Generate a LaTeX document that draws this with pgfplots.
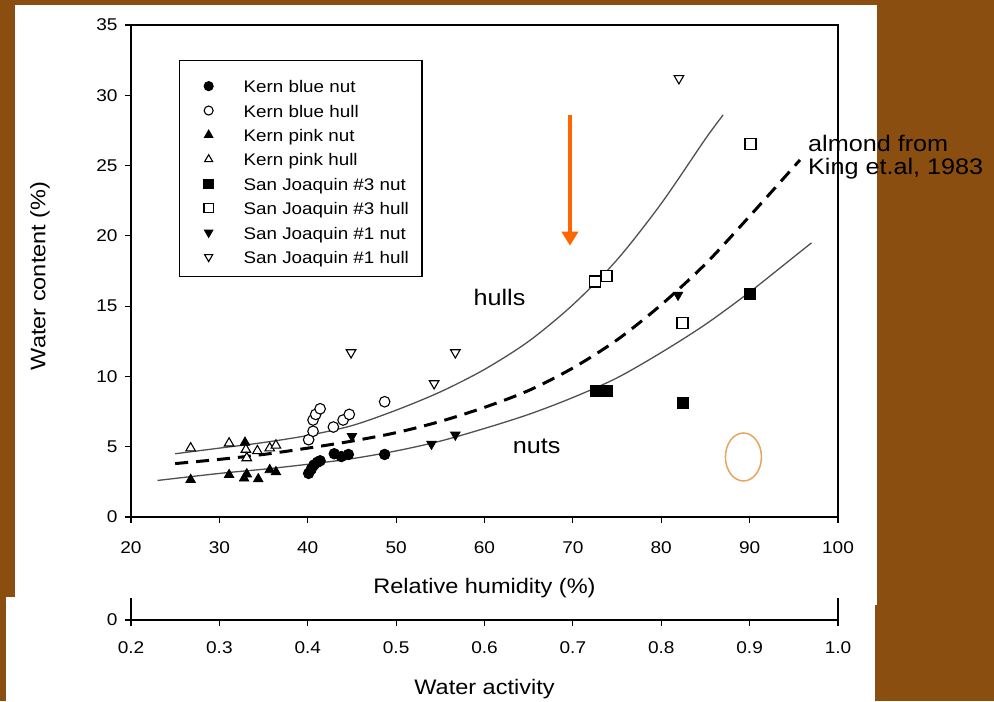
\documentclass[border=0pt]{standalone}
\usepackage{fontspec}
\setmainfont{Liberation Sans}[FakeStretch=1.12]
\usepackage{pgfplots}
\pgfplotsset{compat=1.18}
\usetikzlibrary{arrows.meta}
\definecolor{bgbrown}{RGB}{138,78,16}
\definecolor{arroworange}{RGB}{255,102,0}
\definecolor{ellorange}{RGB}{232,165,95}
\definecolor{curvegray}{RGB}{80,80,80}
\begin{document}
\begin{tikzpicture}
\fill[bgbrown] (0pt,0pt) rectangle (994pt,-701pt);
\fill[white] (15pt,-5pt) rectangle (877pt,-605pt);
\fill[white] (6pt,-597pt) rectangle (875pt,-701pt);
\begin{axis}[
  at={(131pt,-517pt)}, anchor=south west,
  scale only axis, width=707pt, height=492pt,
  xmin=20, xmax=100, ymin=0, ymax=35,
  xtick={20,30,...,100}, ytick={0,5,...,35},
  tick align=outside, xtick pos=bottom, ytick pos=left,
  major tick length=6pt,
  axis line style={line width=1.3pt},
  every tick/.style={line width=1.1pt, black},
  /pgf/number format/assume math mode=true,
  tick label style={font=\fontsize{17}{17}\selectfont},
  xticklabel style={yshift=-15pt},
  yticklabel style={xshift=-4pt},
  xlabel={Relative humidity (\%)},
  ylabel={Water content (\%)},
  label style={font=\fontsize{21}{21}\selectfont},
  xlabel style={at={(axis description cs:0.5,-0.1435)}, anchor=center},
  ylabel style={at={(axis description cs:-0.1287,0.49)}, anchor=center},
  clip=false,
  legend style={at={(0.0679,0.9289)}, anchor=north west, draw=black, line width=1.3pt,
    font=\fontsize{16.8}{16.8}\selectfont, cells={anchor=west},
    nodes={text height=19pt, text depth=0pt},
    inner xsep=11pt, inner ysep=11pt, row sep=1.4pt},
  legend image code/.code={\pgfpathrectangle{\pgfpoint{0pt}{0pt}}{\pgfpoint{51pt}{0pt}}\pgfusepath{discard}%
    \draw[#1, line width=1.1pt, every mark/.append style={scale=0.85}] plot coordinates {(18pt,-3pt)};},
]
\addplot[only marks, mark=*, mark size=5.3pt, draw=black, fill=black, line width=0.8pt]
  coordinates {(40.1,3.1) (40.4,3.4) (40.7,3.7) (41.1,3.9) (41.4,4.0) (43.0,4.5) (43.8,4.3) (44.6,4.45) (48.7,4.45)};
\addlegendentry{Kern blue nut}
\addplot[only marks, mark=*, mark size=5.3pt, draw=black, fill=white, line width=1.1pt]
  coordinates {(40.1,5.5) (40.6,6.1) (40.6,6.9) (40.9,7.3) (41.4,7.7) (42.9,6.4) (44.0,6.9) (44.7,7.3) (48.7,8.2)};
\addlegendentry{Kern blue hull}
\addplot[only marks, mark=triangle*, mark size=5.5pt, draw=black, fill=black, line width=0.8pt]
  coordinates {(26.75,2.65) (31.1,3.0) (32.9,5.3) (32.8,2.75) (33.1,3.05) (34.4,2.7) (35.7,3.35) (36.4,3.2)};
\addlegendentry{Kern pink nut}
\addplot[only marks, mark=triangle*, mark size=5.5pt, draw=black, fill=white, line width=1.1pt]
  coordinates {(26.75,4.9) (31.1,5.25) (33.0,4.8) (33.1,4.2) (34.3,4.7) (35.7,4.9) (36.4,5.1)};
\addlegendentry{Kern pink hull}
\addplot[only marks, mark=square*, mark size=5.5pt, draw=black, fill=black, line width=0.8pt]
  coordinates {(72.6,9.0) (73.8,9.0) (82.4,8.15) (90.0,15.85)};
\addlegendentry{San Joaquin \#3 nut}
\addplot[only marks, mark=square*, mark size=5.5pt, draw=black, fill=white, line width=1.2pt]
  coordinates {(72.5,16.75) (73.8,17.15) (82.4,13.8) (90.1,26.55)};
\addlegendentry{San Joaquin \#3 hull}
\addplot[only marks, mark=triangle*, mark size=5.5pt, mark options={rotate=180}, draw=black, fill=black, line width=0.8pt]
  coordinates {(45.0,5.75) (54.0,5.2) (56.7,5.85) (81.9,15.8)};
\addlegendentry{San Joaquin \#1 nut}
\addplot[only marks, mark=triangle*, mark size=5.5pt, mark options={rotate=180}, draw=black, fill=white, line width=1.1pt]
  coordinates {(44.9,11.7) (54.3,9.5) (56.7,11.7) (82.0,31.2)};
\addlegendentry{San Joaquin \#1 hull}
% fitted curves
\addplot[smooth, curvegray, line width=1.3pt, forget plot]
  coordinates {(25,4.5) (30,4.9) (35,5.3) (40,5.8) (45,6.5) (50,7.6) (55,8.9) (60,10.5) (65,12.5) (70,15.1) (75,18.3) (80,22.3) (85,26.9) (87,28.6)};
\addplot[smooth, curvegray, line width=1.3pt, forget plot]
  coordinates {(23,2.6) (30,3.1) (35,3.4) (40,3.75) (45,4.15) (50,4.7) (55,5.4) (60,6.3) (65,7.3) (70,8.5) (75,9.9) (80,11.7) (85,13.7) (90,16.0) (95,18.5) (97,19.5)};
\addplot[smooth, black, line width=3pt, dash pattern=on 13pt off 8pt, forget plot]
  coordinates {(25,3.8) (30,4.1) (35,4.45) (40,4.9) (45,5.4) (50,6.0) (55,6.8) (60,7.8) (65,9.0) (70,10.6) (75,12.6) (80,15.1) (85,18.0) (90,21.4) (95.7,25.4)};
\node[font=\fontsize{22.5}{22.5}\selectfont] at (axis cs:61.7,15.6) {hulls};
\node[font=\fontsize{22.5}{22.5}\selectfont] at (axis cs:65.9,5.0) {nuts};
\node[font=\fontsize{22.5}{22.5}\selectfont, anchor=west, align=left, inner sep=0pt] at (axis cs:96.6,25.6) {almond from\\[1pt]King et.al, 1983};
\draw[arroworange, line width=3.5pt, -{Triangle[width=16pt,length=14pt]}] (axis cs:69.67,28.6) -- (axis cs:69.67,19.3);
\draw[ellorange, line width=1.5pt] (axis cs:89.3,4.27) ellipse [x radius=18pt, y radius=24pt];
\end{axis}
\begin{axis}[
  at={(131pt,-620pt)}, anchor=south west,
  scale only axis, width=707pt, height=22pt,
  xmin=0.2, xmax=1.0, ymin=0, ymax=1,
  xtick={0.2,0.3,...,1.0}, ytick={0},
  axis lines*=left,
  tick align=outside, major tick length=6pt,
  axis line style={line width=1.3pt},
  x axis line style={line width=2.5pt},
  every tick/.style={line width=1.1pt, black},
  /pgf/number format/assume math mode=true,
  xticklabel={\pgfmathprintnumber[fixed,fixed zerofill,precision=1]{\tick}},
  tick label style={font=\fontsize{17}{17}\selectfont},
  xticklabel style={yshift=-12pt},
  yticklabel style={xshift=-4pt},
  xlabel={Water activity},
  label style={font=\fontsize{21}{21}\selectfont},
  xlabel style={at={(axis description cs:0.5,-3.12)}, anchor=center},
  clip=false,
]
\addplot[draw=none, forget plot] coordinates {(0.2,0) (1.0,0)};
\draw[line width=1.3pt] (rel axis cs:1,0) -- (rel axis cs:1,1);
\end{axis}
\end{tikzpicture}
\end{document}
